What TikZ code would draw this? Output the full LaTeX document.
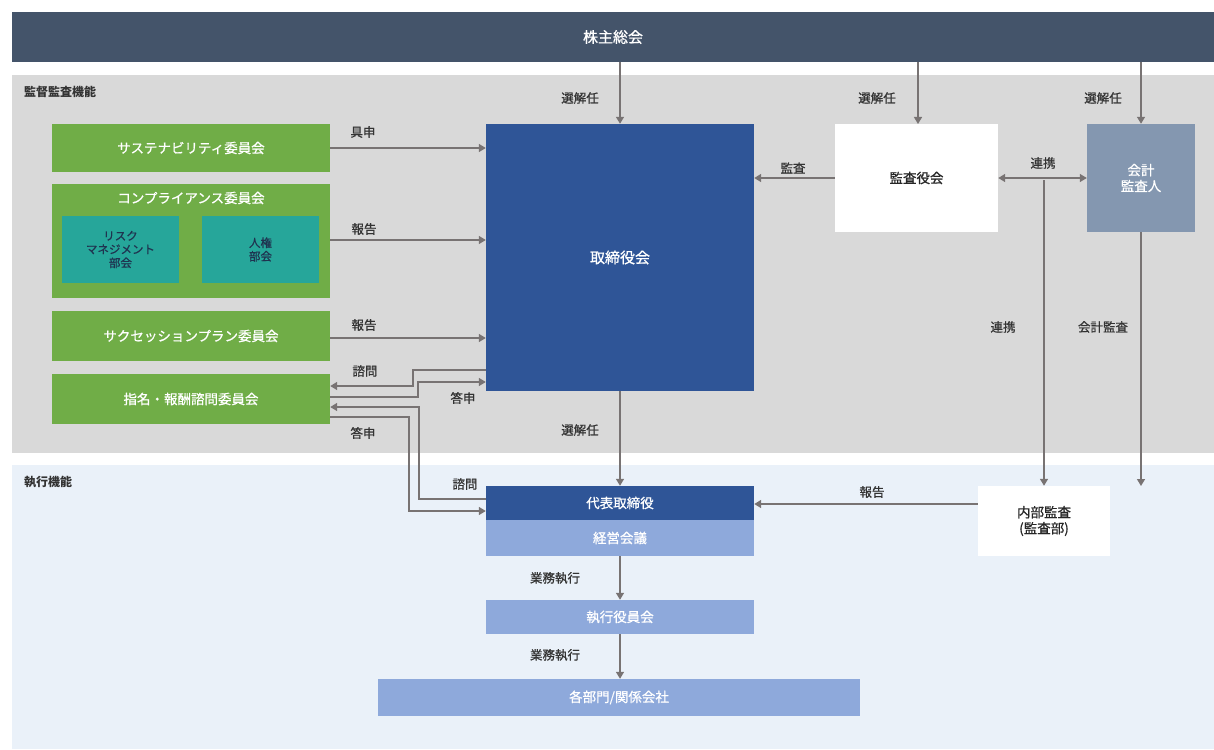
\documentclass[tikz,border=0pt]{standalone}
\usepackage{fontspec}
\setmainfont{Noto Sans CJK JP}
\newfontfamily\semibold[FakeBold=0.8]{Noto Sans CJK JP}
\usetikzlibrary{arrows.meta}

\definecolor{slate}{HTML}{44546A}
\definecolor{supbg}{HTML}{D9D9D9}
\definecolor{exebg}{HTML}{EAF1F9}
\definecolor{grn}{HTML}{70AD47}
\definecolor{tealbox}{HTML}{26A69A}
\definecolor{navytxt}{HTML}{1F3350}
\definecolor{boardblue}{HTML}{2F5597}
\definecolor{paleblue}{HTML}{8EA9DB}
\definecolor{auditgray}{HTML}{8497B0}
\definecolor{arrowgray}{HTML}{787373}

\begin{document}
\begin{tikzpicture}
		[x=1pt,y=-1pt,
		 b/.style={rectangle,inner sep=0pt,align=center,text=white,font=\semibold\fontsize{13.5}{16}\selectfont},
		 g/.style={b,fill=grn,minimum width=278pt},
		 t/.style={b,fill=tealbox,text=navytxt,minimum width=117pt,minimum height=67pt,font=\semibold\fontsize{11.5}{13.5}\selectfont},
		 lbl/.style={inner sep=0pt,text=black!80,font=\semibold\fontsize{12.5}{14}\selectfont},
		 ar/.style={draw=arrowgray,line width=1.4pt,-{Triangle[width=8pt,length=7pt]}}]

		\useasboundingbox (0,0) rectangle (1214,749);
		\fill[white] (0,0) rectangle (1214,749);

		% areas
		\fill[supbg] (12,75) rectangle (1214,453);
		\fill[exebg] (12,465) rectangle (1214,749);
		\node[lbl,anchor=west,font=\bfseries\fontsize{12}{14}\selectfont] (sup) at (24,92) {監督監査機能};
		\node[lbl,anchor=west,font=\bfseries\fontsize{12}{14}\selectfont] (exe) at (24,482) {執行機能};

		\node[b,fill=slate,minimum width=1202pt,minimum height=50pt,font=\semibold\fontsize{15}{17}\selectfont] (soukai) at (613,37) {株主総会};

		% committees
		\node[g,minimum height=48pt] (sus) at (191,148) {サステナビリティ委員会};
		\node[g,minimum height=114pt] (comp) at (191,241) {};
		\node[b] (compt) at (191,198) {コンプライアンス委員会};
		\node[t] (risk) at (120.5,249.5) {リスク\\マネジメント\\部会};
		\node[t] (jinken) at (260.5,249.5) {人権\\部会};
		\node[g,minimum height=50pt] (succ) at (191,336) {サクセッションプラン委員会};
		\node[g,minimum height=50pt] (shimei) at (191,399) {指名・報酬諮問委員会};

		% board and auditors
		\node[b,fill=boardblue,minimum width=268pt,minimum height=267pt,font=\semibold\fontsize{15}{17}\selectfont] (board) at (620,257.5) {取締役会};
		\node[b,fill=white,text=black!85,minimum width=163pt,minimum height=108pt] (kansa) at (916.5,178) {監査役会};
		\node[b,fill=auditgray,minimum width=108pt,minimum height=108pt] (kaikei) at (1141,178) {会計\\監査人};

		% execution
		\node[b,fill=boardblue,minimum width=268pt,minimum height=34pt] (daihyo) at (620,503) {代表取締役};
		\node[b,fill=paleblue,minimum width=268pt,minimum height=36pt] (keiei) at (620,538) {経営会議};
		\node[b,fill=paleblue,minimum width=268pt,minimum height=34pt] (shikkou) at (620,617) {執行役員会};
		\node[b,fill=paleblue,minimum width=482pt,minimum height=37pt] (kakubu) at (619,697.5) {各部門/関係会社};
		\node[b,fill=white,text=black!85,minimum width=132pt,minimum height=70pt] (naibu) at (1044,521) {内部監査\\(監査部)};

		\coordinate (rk) at (1044,180);
		\coordinate (ke) at (1141,486);

		% connectors
		\draw[ar] (soukai.south -| board.north) -- (board.north);
		\draw[ar] (soukai.south -| 918,0) -- (918,124);
		\draw[ar] (soukai.south -| kaikei.north) -- (kaikei.north);
		\draw[ar] (sus.east) -- (sus.east -| board.west);
		\draw[ar] (comp.east |- 0,240) -- (board.west |- 0,240);
		\draw[ar] (succ.east |- 0,338) -- (board.west |- 0,338);
		\draw[ar] (board.west |- 0,370) -- (413,370) -- (413,386) -- (shimei.east |- 0,386);
		\draw[ar] (shimei.east |- 0,397) -- (418,397) -- (418,382) -- (board.west |- 0,382);
		\draw[ar] (daihyo.west |- 0,499) -- (419,499) -- (419,407) -- (shimei.east |- 0,407);
		\draw[ar] (shimei.east |- 0,417) -- (409,417) -- (409,511) -- (daihyo.west |- 0,511);
		\draw[ar] (kansa.west) -- (kansa.west -| board.east);
		\draw[ar,{Triangle[width=8pt,length=7pt]}-{Triangle[width=8pt,length=7pt]}] (kansa.east) -- (kaikei.west);
		\draw[ar] (rk) -- (naibu.north);
		\draw[ar] (kaikei.south) -- (ke);
		\draw[ar] (naibu.west |- 0,504) -- (daihyo.east |- 0,504);
		\draw[ar] (board.south) -- (daihyo.north);
		\draw[ar] (keiei.south) -- (shikkou.north);
		\draw[ar] (shikkou.south) -- (shikkou.south |- kakubu.north);

		% labels
		\node[lbl] (s1) at (580,98) {選解任};
		\node[lbl] (s2) at (877,98) {選解任};
		\node[lbl] (s3) at (1103,98) {選解任};
		\node[lbl] (l1) at (363,132) {具申};
		\node[lbl] (l2) at (364,229) {報告};
		\node[lbl] (l3) at (364,325) {報告};
		\node[lbl] (l4) at (365,371) {諮問};
		\node[lbl] (l5) at (463,398) {答申};
		\node[lbl] (l6) at (363,433) {答申};
		\node[lbl] (l7) at (465,484) {諮問};
		\node[lbl] (l8) at (793,168) {監査};
		\node[lbl] (l9) at (1043,163) {連携};
		\node[lbl] (l10) at (1003,327) {連携};
		\node[lbl] (l11) at (1103,327) {会計監査};
		\node[lbl] (s4) at (580,430) {選解任};
		\node[lbl] (l12) at (872,492) {報告};
		\node[lbl] (l13) at (555,578) {業務執行};
		\node[lbl] (l14) at (555,655) {業務執行};

	\end{tikzpicture}
\end{document}
